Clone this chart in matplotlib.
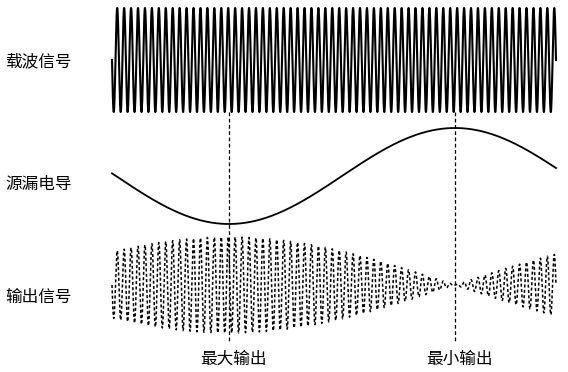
import matplotlib.pyplot as plt
import numpy as np

plt.rcParams['font.family'] = ['Noto Sans CJK SC', 'DejaVu Sans']

# row labels and their vertical positions (pixels from top)
row_labels = ['载波信号', '源漏电导', '输出信号']
row_label_y = [62, 184, 297]
# markers at the bottom
marker_labels = ['最大输出', '最小输出']
marker_x = [229, 455]

# signal geometry (pixel units)
x_start, x_end = 112, 556
carrier_cycles = 64
carrier_center, carrier_amp = 60, 52
cond_center, cond_amp = 176, 48
cond_min_x, cond_period = 229, 452
out_center, out_amp = 285, 48

x = np.linspace(x_start, x_end, 6000)
carrier = np.sin(2 * np.pi * carrier_cycles * (x - x_start) / (x_end - x_start))
cond = np.cos(2 * np.pi * (x - cond_min_x) / cond_period)
envelope = np.abs(np.cos(np.pi * (x - cond_min_x) / cond_period))

fig = plt.figure(figsize=(5.68, 3.72), dpi=100)
ax = fig.add_axes([0, 0, 1, 1])
ax.set_xlim(0, 568)
ax.set_ylim(372, 0)
ax.axis('off')

ax.plot(x, carrier_center + carrier_amp * carrier, color='black', lw=1.5)
ax.plot(x, cond_center + cond_amp * cond, color='black', lw=1.3)
ax.plot(x, out_center + out_amp * envelope * carrier, color='black', lw=1.1,
        linestyle=(0, (2, 1.5)))

for mx, lab in zip(marker_x, marker_labels):
    ax.plot([mx, mx], [112, 342], color='black', lw=0.9, linestyle=(0, (3, 2)))
    ax.text(mx + 4, 359, lab, ha='center', va='center', fontsize=12,
            fontweight='medium')

for ly, lab in zip(row_label_y, row_labels):
    ax.text(5, ly, lab, ha='left', va='center', fontsize=12, fontweight='medium')

fig.savefig('out.png', dpi=100, facecolor='white')
